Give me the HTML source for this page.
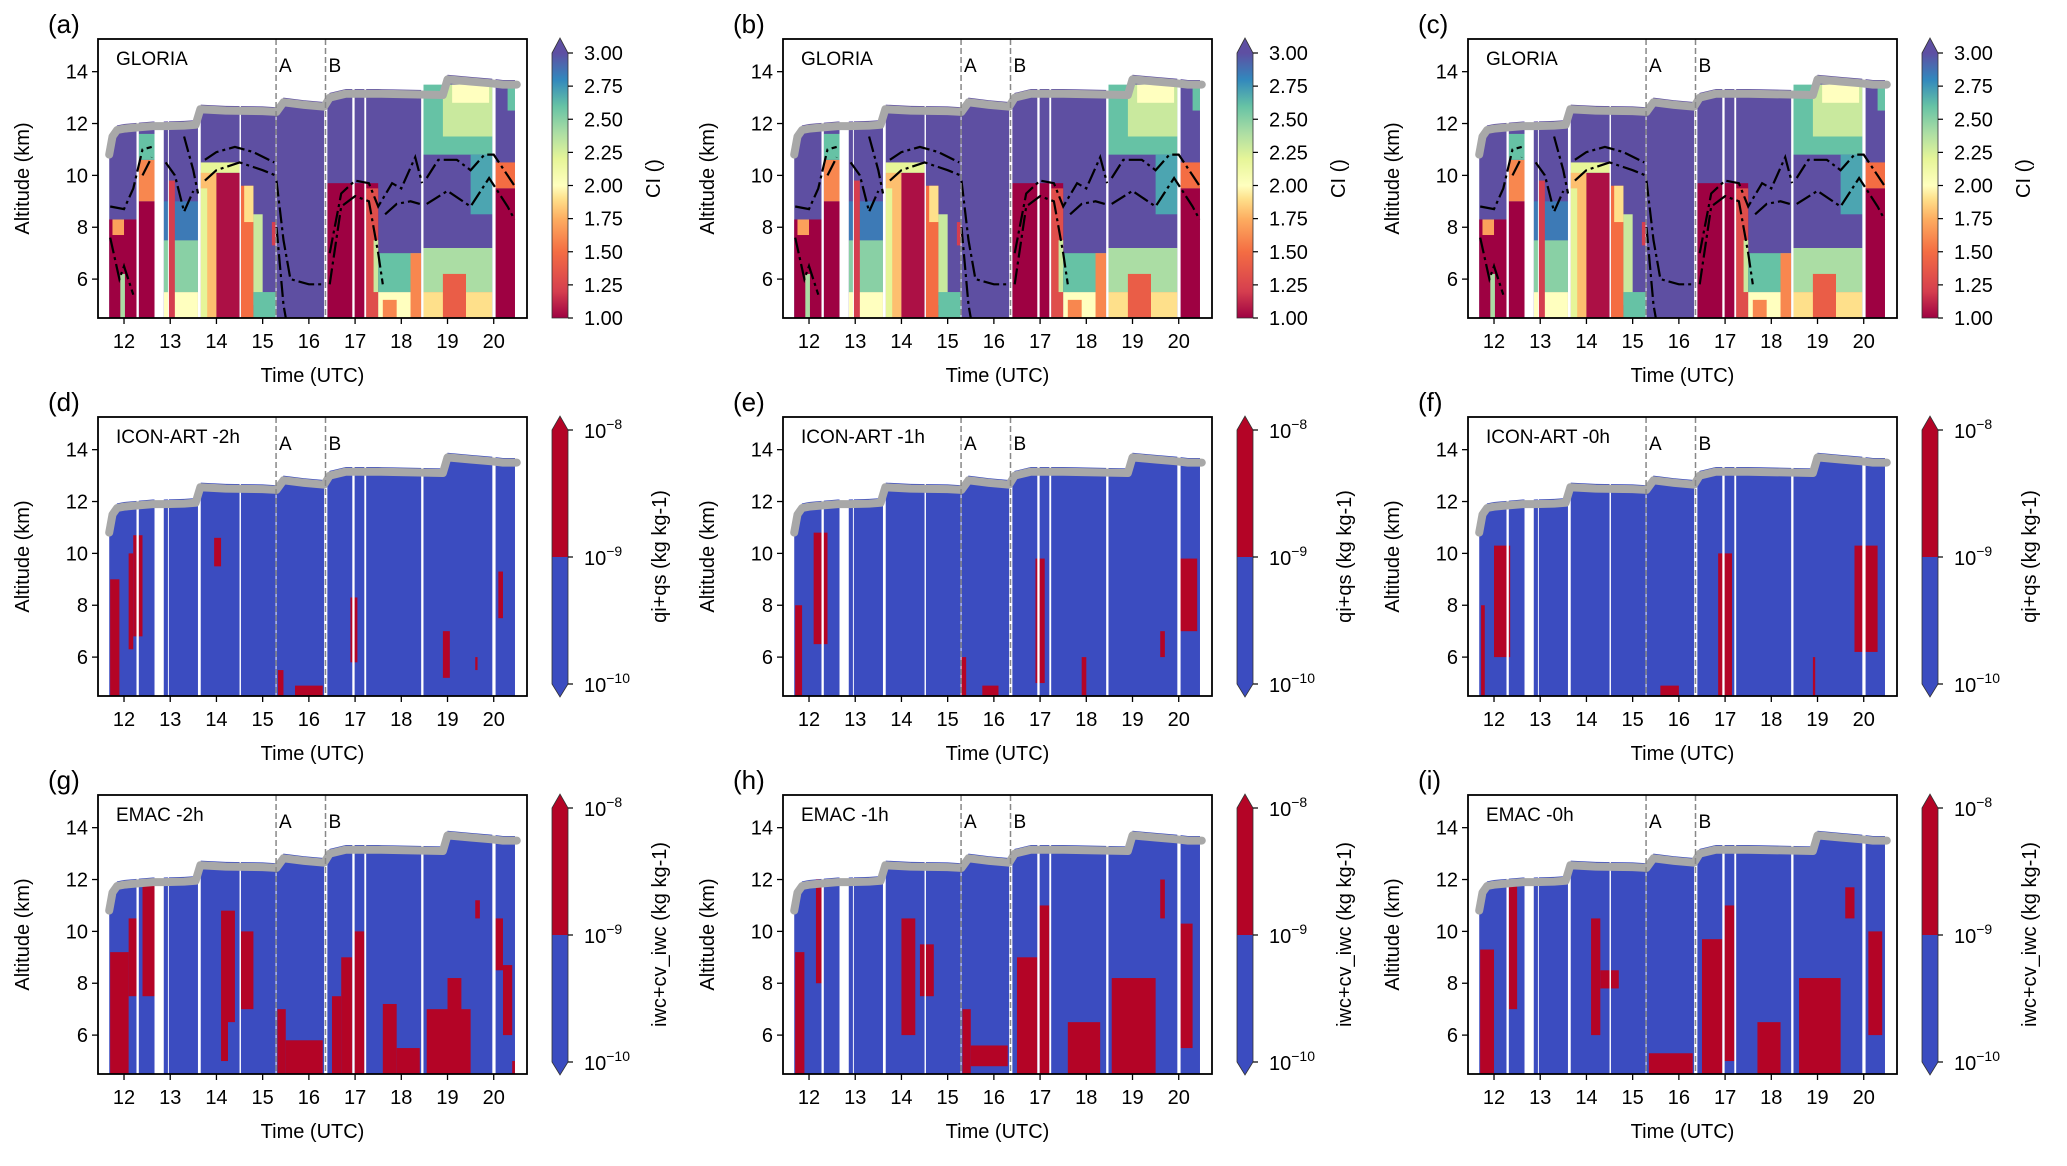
<!DOCTYPE html>
<html><head><meta charset="utf-8">
<style>
html,body{margin:0;padding:0;background:#fff;}
svg{display:block;font-family:"Liberation Sans","DejaVu Sans",sans-serif;}
</style></head>
<body>
<svg id="fig" width="2067" height="1166" viewBox="0 0 2067 1166" xmlns="http://www.w3.org/2000/svg">
<defs>
<linearGradient id="ciGrad" x1="0" y1="1" x2="0" y2="0">
<stop offset="0" stop-color="#9e0142"/><stop offset="0.1" stop-color="#d53e4f"/><stop offset="0.25" stop-color="#f46d43"/>
<stop offset="0.375" stop-color="#fdae61"/><stop offset="0.45" stop-color="#fee08b"/><stop offset="0.5" stop-color="#ffffbf"/>
<stop offset="0.6" stop-color="#e6f598"/><stop offset="0.7" stop-color="#abdda4"/><stop offset="0.8" stop-color="#66c2a5"/>
<stop offset="0.9" stop-color="#3288bd"/><stop offset="1" stop-color="#5e4fa2"/>
</linearGradient>
</defs>
</svg>
<script>
// ---- data ----
const xTicks = [12,13,14,15,16,17,18,19,20];
const yTicks = [6,8,10,12,14];
const ciTicks = [1.00,1.25,1.50,1.75,2.00,2.25,2.50,2.75,3.00];
const flightT = [11.68,11.75,11.85,12.0,12.3,12.62,12.86,13.3,13.55,13.65,14.2,15.0,15.3,15.45,15.9,16.33,16.45,16.8,17.5,18.9,19.0,19.5,19.95,20.2,20.5];
const flightZ = [10.8,11.5,11.75,11.8,11.85,11.9,11.9,11.92,11.95,12.55,12.5,12.48,12.45,12.82,12.72,12.65,13.0,13.15,13.15,13.1,13.7,13.62,13.55,13.5,13.5];
const gapStart = [12.27,12.66,12.95,13.6,14.5,15.28,16.33,16.94,17.2,18.43,19.97,20.46];
const gapEnd   = [12.32,12.86,12.97,13.66,14.53,15.30,16.40,16.99,17.24,18.48,20.04,20.52];
const eventT = [15.29,16.36];
const eventLabels = ["A","B"];
// GLORIA CI blocks: [t0,t1,z0,z1,CI]
const gloriaBlocks = [
[11.68,12.27,4.5,8.3,1.0],[11.75,12.0,7.7,8.3,1.7],[11.92,12.02,4.5,6.2,2.4],
[12.32,12.66,4.5,9.0,1.0],[12.32,12.66,9.0,10.6,1.6],[12.32,12.66,10.6,11.6,2.6],
[12.86,13.6,4.5,5.5,2.0],[12.86,13.6,5.5,7.5,2.5],[12.86,13.6,7.5,9.0,2.85],[12.97,13.1,4.5,9.8,1.2],
[13.66,14.0,4.5,10.2,1.8],[13.66,13.8,4.5,9.5,2.2],[14.0,14.5,4.5,10.1,1.05],[13.66,14.5,10.1,10.5,2.2],[14.53,14.8,4.5,9.6,1.5],[14.6,14.8,8.2,9.6,1.9],
[14.8,15.0,5.0,8.5,2.3],[14.8,15.28,4.5,5.5,2.6],[15.2,15.28,7.3,8.2,1.2],
[16.4,17.5,4.5,9.7,1.0],[17.24,17.5,4.5,9.5,1.3],[17.4,17.5,5.5,7.5,2.3],
[17.5,18.43,4.5,5.5,2.0],[17.5,18.43,5.5,7.0,2.6],[17.6,17.9,4.5,5.2,1.6],[18.2,18.43,4.5,7.0,1.6],
[18.48,19.97,10.8,13.5,2.6],[18.9,19.97,11.5,13.5,2.3],[19.1,19.9,12.8,13.5,2.0],[18.48,19.97,5.5,7.2,2.4],[18.48,19.97,4.5,5.5,1.9],[18.9,19.4,4.5,6.2,1.4],[19.5,19.97,8.5,10.8,2.7],
[20.04,20.46,4.5,9.5,1.0],[20.04,20.46,9.5,10.5,1.5],[20.3,20.46,12.5,13.5,2.6]
];
const dashUpperT = [11.7,12.0,12.2,12.4,12.6,null,13.3,13.5,13.6,null,13.75,14.0,14.4,14.8,15.25,null,15.3,15.45,15.6,16.0,16.3,null,16.45,16.7,17.0,17.3,17.5,17.8,18.0,18.3,18.45,null,18.55,18.8,19.2,19.5,19.8,20.0,20.3,20.45];
const dashUpperZ = [8.8,8.7,9.5,11.0,11.1,null,11.5,10.2,9.3,null,10.6,10.9,11.1,10.9,10.5,null,9.8,7.5,6.0,5.8,5.8,null,7.0,9.3,9.8,9.7,8.8,9.7,9.5,10.7,9.7,null,9.9,10.6,10.6,10.2,10.8,10.8,10.0,9.6];
const dashLowerT = [11.7,11.9,12.0,12.2,null,12.4,12.6,null,12.9,13.1,13.3,13.5,null,13.75,14.0,14.5,15.0,15.28,null,15.3,15.45,15.5,null,16.45,16.7,17.0,17.3,17.5,17.6,null,17.65,17.9,18.2,18.4,null,18.55,19.0,19.5,19.9,20.3,20.45];
const dashLowerZ = [7.6,6.0,6.5,5.4,null,10.0,10.7,null,10.5,10.0,8.6,9.4,null,9.8,10.2,10.5,10.2,10.0,null,8.0,5.0,4.5,null,5.8,8.8,9.2,9.0,7.0,5.8,null,8.5,8.9,9.0,8.9,null,8.9,9.4,8.8,9.9,8.8,8.3];
// model cloud blocks (>1e-9): [t0,t1,z0,z1]
const iconM2 = [[11.7,11.9,4.5,9.0],[12.1,12.2,6.3,10.0],[12.2,12.4,6.8,10.7],[13.95,14.1,9.5,10.6],[15.33,15.45,4.5,5.5],[15.7,16.3,4.5,4.9],[16.9,17.05,5.8,8.3],[18.9,19.05,5.2,7.0],[19.6,19.65,5.5,6.0],[20.1,20.2,7.5,9.3]];
const iconM1 = [[11.7,11.85,4.5,8.0],[12.1,12.4,6.5,10.8],[15.3,15.4,4.5,6.0],[15.75,16.1,4.5,4.9],[16.9,17.1,5.0,9.8],[17.9,18.0,4.5,6.0],[19.6,19.7,6.0,7.0],[20.0,20.4,7.0,9.8]];
const iconM0 = [[11.72,11.8,4.5,8.0],[12.0,12.35,6.0,10.3],[15.6,16.0,4.5,4.9],[16.85,17.15,4.5,10.0],[18.9,18.95,4.5,6.0],[19.8,20.3,6.2,10.3]];
const emacM2 = [[11.7,12.1,4.5,9.2],[12.1,12.27,7.5,10.5],[12.4,12.66,7.5,11.8],[14.1,14.25,5.0,10.8],[14.25,14.4,6.5,10.8],[14.53,14.8,7.0,10.0],[15.32,15.5,4.5,7.0],[15.5,16.3,4.5,5.8],[16.5,16.7,4.5,7.5],[16.7,16.94,4.5,9.0],[16.99,17.2,4.5,10.0],[17.6,17.9,4.5,7.2],[17.9,18.4,4.5,5.5],[18.55,19.5,4.5,7.0],[19.0,19.3,4.5,8.2],[19.6,19.7,10.5,11.2],[20.04,20.2,8.5,10.5],[20.2,20.4,6.0,8.7],[20.4,20.46,4.5,5.0]];
const emacM1 = [[11.7,11.9,4.5,9.2],[12.15,12.27,8.0,12.0],[14.0,14.3,6.0,10.5],[14.4,14.7,7.5,9.5],[15.32,15.5,4.5,7.0],[15.5,16.3,4.8,5.6],[16.5,16.94,4.5,9.0],[16.99,17.2,4.5,11.0],[17.6,18.3,4.5,6.5],[18.55,19.5,4.5,8.2],[19.6,19.7,10.5,12.0],[20.04,20.3,5.5,10.3]];
const emacM0 = [[11.7,12.0,4.5,9.3],[12.32,12.5,7.0,11.8],[14.1,14.3,6.0,10.5],[14.3,14.7,7.8,8.5],[15.35,16.3,4.5,5.3],[16.5,16.94,4.5,9.7],[16.99,17.2,5.0,11.0],[17.7,18.2,4.5,6.5],[18.6,19.5,4.5,8.2],[19.6,19.8,10.5,11.7],[20.1,20.4,6.0,10.0]];

// ---- layout ----
const NS = "http://www.w3.org/2000/svg";
const svg = document.getElementById('fig');
const AX_L = 98, AX_R = 527, AX_T = 39, AX_B = 318;
const COL_DX = 685, ROW_DY = 378;
const T0 = 11.437, T1 = 20.72, Z0 = 4.5, Z1 = 15.26;
const BLUE = "#3b4cc0", RED = "#b40426", CIBLUE = "#5e4fa2";

function el(tag, attrs, parent){ const e=document.createElementNS(NS,tag); for(const k in attrs) e.setAttribute(k,attrs[k]); (parent||svg).appendChild(e); return e; }
function ciColor(v){
  const stops=[[1.0,[158,1,66]],[1.2,[213,62,79]],[1.5,[244,109,67]],[1.75,[253,174,97]],[1.9,[254,224,139]],[2.0,[255,255,191]],[2.2,[230,245,152]],[2.4,[171,221,164]],[2.6,[102,194,165]],[2.8,[50,136,189]],[3.0,[94,79,162]]];
  for(let i=1;i<stops.length;i++){ if(v<=stops[i][0]){ const a=stops[i-1],b=stops[i]; const f=(v-a[0])/(b[0]-a[0]); const c=a[1].map((x,j)=>Math.round(x+(b[1][j]-x)*f)); return `rgb(${c})`; } }
  return "rgb(94,79,162)";
}

const panels = [
 {lab:"(a)",title:"GLORIA",kind:"ci"},{lab:"(b)",title:"GLORIA",kind:"ci"},{lab:"(c)",title:"GLORIA",kind:"ci"},
 {lab:"(d)",title:"ICON-ART -2h",kind:"icon",blocks:iconM2},{lab:"(e)",title:"ICON-ART -1h",kind:"icon",blocks:iconM1},{lab:"(f)",title:"ICON-ART -0h",kind:"icon",blocks:iconM0},
 {lab:"(g)",title:"EMAC -2h",kind:"emac",blocks:emacM2},{lab:"(h)",title:"EMAC -1h",kind:"emac",blocks:emacM1},{lab:"(i)",title:"EMAC -0h",kind:"emac",blocks:emacM0}
];

panels.forEach((p,idx)=>{
  const col=idx%3,row=Math.floor(idx/3);
  const ox=col*COL_DX, oy=row*ROW_DY;
  const L=AX_L+ox,R=AX_R+ox,T=AX_T+oy,B=AX_B+oy;
  const sx=t=>L+(t-T0)/(T1-T0)*(R-L);
  const sy=z=>B-(z-Z0)/(Z1-Z0)*(B-T);
  const g=el('g',{});
  
  
  const cid='clip'+idx;
  const cp=el('clipPath',{id:cid},g); el('rect',{x:L,y:T,width:R-L,height:B-T},cp);
  const plot=el('g',{'clip-path':`url(#${cid})`},g);
  
  
  let pts=[[sx(flightT[0]),sy(Z0)]];
  for(let i=0;i<flightT.length;i++) pts.push([sx(flightT[i]),sy(flightZ[i]+0.18)]);
  pts.push([sx(flightT[flightT.length-1]),sy(Z0)]);
  const base=el('polygon',{points:pts.map(q=>q.join(',')).join(' '),fill:p.kind==='ci'?CIBLUE:BLUE},plot);
  
  
  if(p.kind==='ci'){
    gloriaBlocks.forEach(b=>{
      const r=el('rect',{x:sx(b[0]),y:sy(b[3]),width:sx(b[1])-sx(b[0]),height:sy(b[2])-sy(b[3]),fill:ciColor(b[4])},plot);
      
      
    });
  } else {
    p.blocks.forEach(b=>{
      const r=el('rect',{x:sx(b[0]),y:sy(b[3]),width:sx(b[1])-sx(b[0]),height:sy(b[2])-sy(b[3]),fill:RED},plot);
      
      
    });
  }
  gapStart.forEach((s,i)=>{
    const r=el('rect',{x:sx(s),y:T,width:sx(gapEnd[i])-sx(s),height:B-T,fill:'#fff'},plot);
    
    
  });
  if(p.kind==='ci'){
    [[dashUpperT,dashUpperZ],[dashLowerT,dashLowerZ]].forEach(([tt,zz])=>{
      let d='',pen=false;
      tt.forEach((t,i)=>{ if(t===null){pen=false;return;} d+=(pen?'L':'M')+sx(t).toFixed(1)+','+sy(zz[i]).toFixed(1); pen=true; });
      const pa=el('path',{d,fill:'none',stroke:'#000','stroke-width':2.2,'stroke-dasharray':'16,4,3,4'},plot);
      
      
    });
  }
  const fl=el('polyline',{points:flightT.map((t,i)=>sx(t).toFixed(1)+','+sy(flightZ[i]).toFixed(1)).join(' '),fill:'none',stroke:'#a8a8a8','stroke-width':8,'stroke-linejoin':'round','stroke-linecap':'round'},plot);
  
  
  eventT.forEach((t,i)=>{
    const ln=el('line',{x1:sx(t),x2:sx(t),y1:T,y2:B,stroke:'#888','stroke-width':1.5,'stroke-dasharray':'6,3'},plot);
    
    
    const tx=el('text',{x:sx(t)+3,y:T+33,'font-size':19},g); tx.textContent=eventLabels[i];
    
    
  });
  const fr=el('rect',{x:L,y:T,width:R-L,height:B-T,fill:'none',stroke:'#000','stroke-width':1.8},g);
  
  
  xTicks.forEach(t=>{
    el('line',{x1:sx(t),x2:sx(t),y1:B,y2:B+6,stroke:'#000','stroke-width':1.3},g);
    const tx=el('text',{x:sx(t),y:B+30,'font-size':20,'text-anchor':'middle'},g); tx.textContent=t;
    
    
  });
  yTicks.forEach(z=>{
    el('line',{x1:L-6,x2:L,y1:sy(z),y2:sy(z),stroke:'#000','stroke-width':1.3},g);
    const tx=el('text',{x:L-10,y:sy(z)+7,'font-size':20,'text-anchor':'end'},g); tx.textContent=z;
    
    
  });
  const xt=el('text',{x:(L+R)/2,y:B+64,'font-size':20,'text-anchor':'middle'},g); xt.textContent='Time (UTC)';
  
  
  const yt=el('text',{x:0,y:0,'font-size':20,'text-anchor':'middle',transform:`translate(${L-69},${(T+B)/2}) rotate(-90)`},g); yt.textContent='Altitude (km)';
  
  
  const pl=el('text',{x:L-50,y:T-6,'font-size':26},g); pl.textContent=p.lab;
  
  
  const ti=el('text',{x:L+18,y:T+26,'font-size':19},g); ti.textContent=p.title;
  
  
  const cx0=552+ox, cx1=568+ox;
  const cb=el('g',{},g);
  
  
  if(p.kind==='ci'){
    const top=T+14, bot=B;
    el('rect',{x:cx0,y:top,width:cx1-cx0,height:bot-top,fill:'url(#ciGrad)'},cb);
    el('polygon',{points:`${cx0},${top} ${cx1},${top} ${(cx0+cx1)/2},${T-1}`,fill:CIBLUE},cb);
    el('path',{d:`M${cx0},${bot}L${cx0},${top}L${(cx0+cx1)/2},${T-1}L${cx1},${top}L${cx1},${bot}Z`,fill:'none',stroke:'#333','stroke-width':0.8},cb);
    ciTicks.forEach(v=>{
      const y=bot-(v-1)/2*(bot-top);
      el('line',{x1:cx1,x2:cx1+5,y1:y,y2:y,stroke:'#000','stroke-width':1.2},cb);
      const tx=el('text',{x:cx1+16,y:y+7,'font-size':20},cb); tx.textContent=v.toFixed(2);
      
      
    });
    const lb=el('text',{x:0,y:0,'font-size':20,'text-anchor':'middle',transform:`translate(${660+ox},${(T+B)/2}) rotate(-90)`},cb); lb.textContent='CI ()';
    
    
  } else {
    const top=T+13, bot=B-12, mid=(top+bot)/2, xm=(cx0+cx1)/2;
    el('rect',{x:cx0,y:top,width:cx1-cx0,height:mid-top,fill:RED},cb);
    el('rect',{x:cx0,y:mid,width:cx1-cx0,height:bot-mid,fill:BLUE},cb);
    el('polygon',{points:`${cx0},${top} ${cx1},${top} ${xm},${T-1}`,fill:RED},cb);
    el('polygon',{points:`${cx0},${bot} ${cx1},${bot} ${xm},${B+1}`,fill:BLUE},cb);
    el('path',{d:`M${cx0},${top}L${xm},${T-1}L${cx1},${top}L${cx1},${bot}L${xm},${B+1}L${cx0},${bot}Z`,fill:'none',stroke:'#333','stroke-width':0.8},cb);
    [[top,'-8'],[mid,'-9'],[bot,'-10']].forEach(([y,e])=>{
      el('line',{x1:cx1,x2:cx1+5,y1:y,y2:y,stroke:'#000','stroke-width':1.2},cb);
      const tx=el('text',{x:cx1+16,y:y+8,'font-size':20},cb);
      
      
      const a=el('tspan',{},tx); a.textContent='10';
      const s=el('tspan',{dy:-9,'font-size':14},tx); s.textContent='−'+e.slice(1);
    });
    const lb=el('text',{x:0,y:0,'font-size':20,'text-anchor':'middle',transform:`translate(${666+ox},${(T+B)/2}) rotate(-90)`},cb);
    lb.textContent=p.kind==='icon'?'qi+qs (kg kg-1)':'iwc+cv_iwc (kg kg-1)';
    
    
  }
});
</script>
</body></html>
